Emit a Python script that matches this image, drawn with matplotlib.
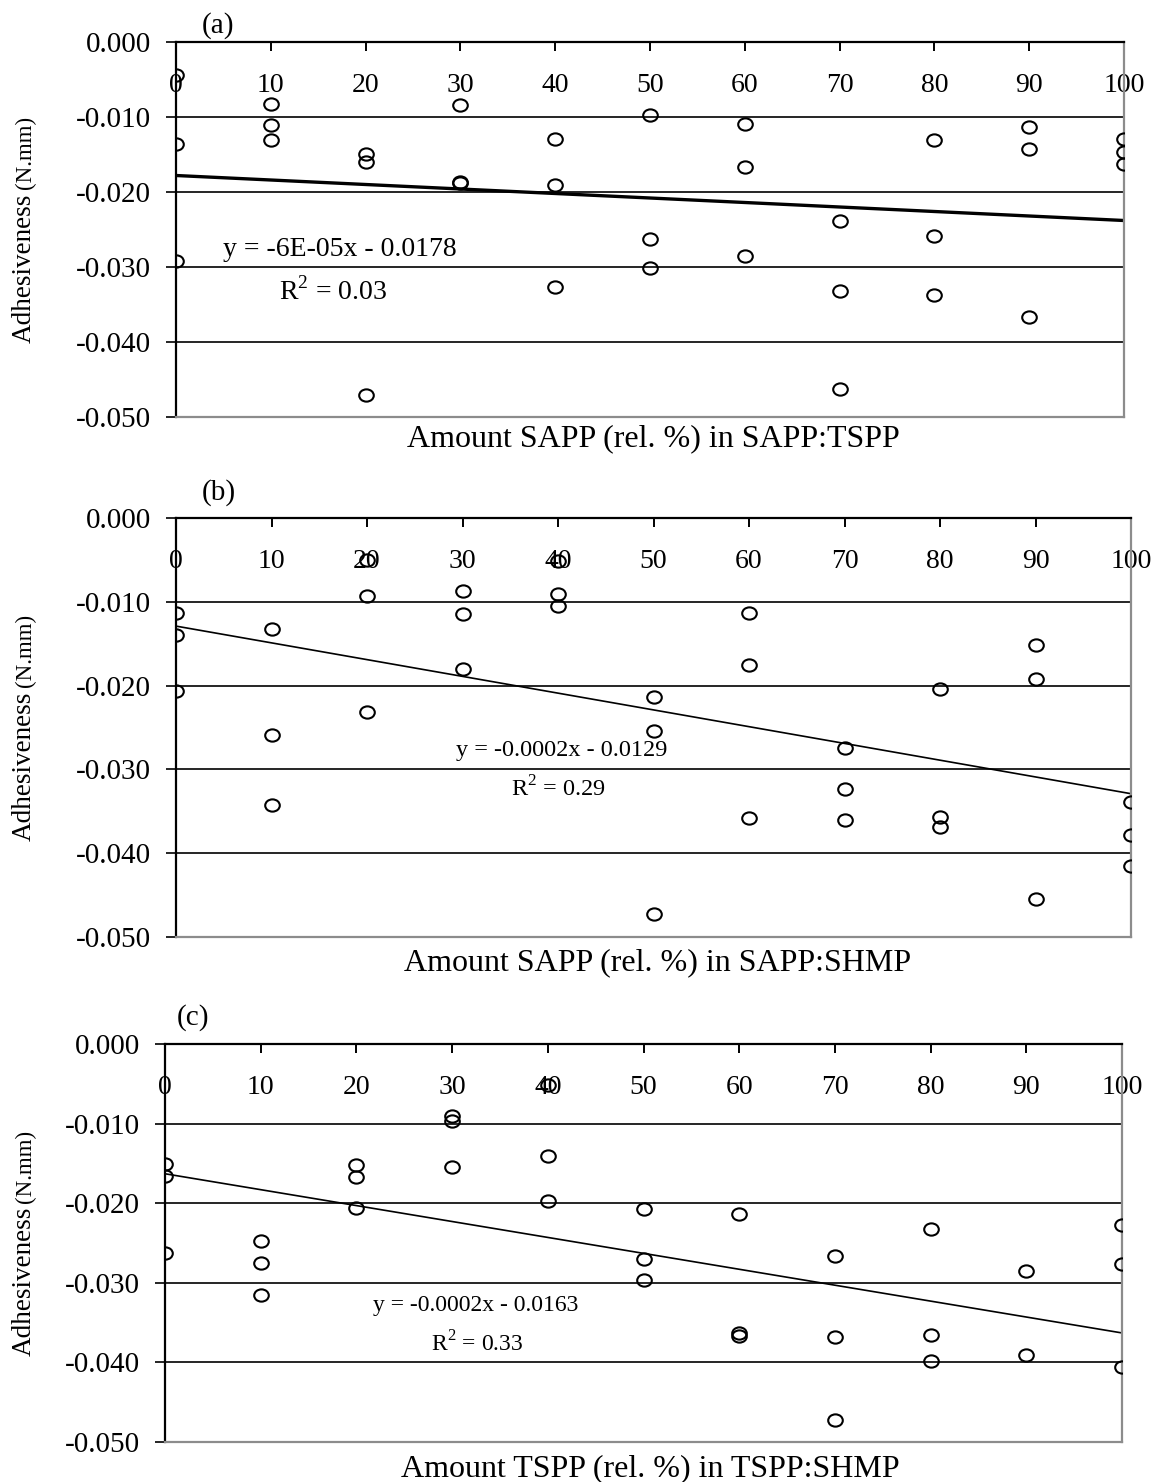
import numpy as np
import matplotlib
matplotlib.use("Agg")
import matplotlib.pyplot as plt
from matplotlib.path import Path

plt.rcParams['font.family'] = ['Liberation Serif', 'DejaVu Serif']
plt.rcParams['axes.unicode_minus'] = False
plt.rcParams['mathtext.fontset'] = 'custom'
plt.rcParams['mathtext.rm'] = 'Liberation Serif'

# ---- data -------------------------------------------------------------
x_ticks = [0, 10, 20, 30, 40, 50, 60, 70, 80, 90, 100]
y_ticks = [0.000, -0.010, -0.020, -0.030, -0.040, -0.050]

# (a) SAPP:TSPP
a_x = [0, 0, 0, 10, 10, 10, 20, 20, 20, 30, 30, 30, 40, 40, 40,
       50, 50, 50, 60, 60, 60, 70, 70, 70, 80, 80, 80, 90, 90, 90,
       100, 100, 100]
a_y = [-0.0044, -0.0136, -0.0292, -0.0082, -0.0111, -0.0130,
       -0.0149, -0.0160, -0.0471, -0.0084, -0.0186, -0.0188,
       -0.0129, -0.0191, -0.0326, -0.0097, -0.0263, -0.0301,
       -0.0109, -0.0167, -0.0285, -0.0238, -0.0332, -0.0462,
       -0.0131, -0.0259, -0.0337, -0.0113, -0.0142, -0.0366,
       -0.0129, -0.0147, -0.0163]
a_slope, a_icpt = -6e-05, -0.0178
a_r2 = "0.03"

# (b) SAPP:SHMP
b_x = [0, 0, 0, 10, 10, 10, 20, 20, 20, 30, 30, 30, 40, 40, 40,
       50, 50, 50, 60, 60, 60, 70, 70, 70, 80, 80, 80, 90, 90, 90,
       100, 100, 100]
b_y = [-0.0113, -0.0140, -0.0206, -0.0133, -0.0259, -0.0342,
       -0.0050, -0.0093, -0.0232, -0.0087, -0.0115, -0.0180,
       -0.0051, -0.0091, -0.0105, -0.0214, -0.0254, -0.0473,
       -0.0113, -0.0176, -0.0358, -0.0275, -0.0323, -0.0360,
       -0.0204, -0.0357, -0.0369, -0.0152, -0.0192, -0.0455,
       -0.0339, -0.0378, -0.0415]
b_slope, b_icpt = -0.0002, -0.0129
b_r2 = "0.29"

# (c) TSPP:SHMP
c_x = [0, 0, 0, 10, 10, 10, 20, 20, 20, 30, 30, 30, 40, 40, 40,
       50, 50, 50, 60, 60, 60, 70, 70, 70, 80, 80, 80, 90, 90,
       100, 100, 100]
c_y = [-0.0151, -0.0166, -0.0263, -0.0247, -0.0275, -0.0315,
       -0.0152, -0.0167, -0.0206, -0.0090, -0.0097, -0.0154,
       -0.0052, -0.0141, -0.0197, -0.0207, -0.0270, -0.0296,
       -0.0213, -0.0363, -0.0367, -0.0266, -0.0368, -0.0472,
       -0.0232, -0.0366, -0.0398, -0.0285, -0.0391,
       -0.0228, -0.0277, -0.0406]
c_slope, c_icpt = -0.0002, -0.0163
c_r2 = "0.33"

x_titles = ["Amount SAPP (rel. %) in SAPP:TSPP",
            "Amount SAPP (rel. %) in SAPP:SHMP",
            "Amount TSPP (rel. %) in TSPP:SHMP"]
panel_tags = ["(a)", "(b)", "(c)"]

# ---- figure -----------------------------------------------------------
W, H = 1156, 1482
fig = plt.figure(figsize=(W / 100, H / 100), dpi=100)


def axes_px(l, t, r, b):
    return fig.add_axes([l / W, 1 - b / H, (r - l) / W, (b - t) / H])


def slope_text(s):
    return f"{s:.0E}" if abs(s) < 1e-4 else f"{s:.4f}"


# slightly flattened open circle, as used for the markers
circ = Path.unit_circle()
oval = Path(circ.vertices * np.array([1.0, 0.84]), circ.codes)

panels = [
    dict(box=(176, 42, 1124, 417), x=a_x, y=a_y, fit=(a_slope, a_icpt),
         r2=a_r2, lw=2.4, eq=(17.3, -0.0277), rr=(16.6, -0.0333), eqfs=20,
         tagpos=(218, 26), xl=(0.504, -0.018)),
    dict(box=(176, 518, 1131, 937), x=b_x, y=b_y, fit=(b_slope, b_icpt),
         r2=b_r2, lw=1.2, eq=(40.4, -0.0278), rr=(40.0, -0.0323), eqfs=17.5,
         tagpos=(219, 493), xl=(0.504, -0.026)),
    dict(box=(165, 1044, 1122, 1442), x=c_x, y=c_y, fit=(c_slope, c_icpt),
         r2=c_r2, lw=1.2, eq=(32.5, -0.0328), rr=(32.6, -0.0377), eqfs=17,
         tagpos=(193, 1018), xl=(0.507, -0.031)),
]

renderer = fig.canvas.get_renderer()

for p, xt, tag in zip(panels, x_titles, panel_tags):
    ax = axes_px(*p['box'])
    ax.set_xlim(0, 100)
    ax.set_ylim(-0.050, 0.000)

    # horizontal gridlines between the frame edges
    for t in y_ticks[1:-1]:
        ax.axhline(t, color='black', lw=1.2, zorder=1)

    ax.plot(p['x'], p['y'], linestyle='none', marker=oval, markersize=10.5,
            markerfacecolor='none', markeredgecolor='black',
            markeredgewidth=1.5, zorder=3)

    slope, icpt = p['fit']
    xx = np.array([0, 100])
    ax.plot(xx, slope * xx + icpt, color='black', lw=p['lw'], zorder=2,
            solid_capstyle='butt')

    ax.text(p['eq'][0], p['eq'][1],
            f"y = {slope_text(slope)}x - {abs(icpt):.4f}",
            fontsize=p['eqfs'], ha='center', va='center')
    ax.text(p['rr'][0], p['rr'][1], r"R$^{\mathrm{2}}$ = " + p['r2'],
            fontsize=p['eqfs'], ha='center', va='center')

    # frame: value axis and category axis black, the rest grey
    for s in ['left', 'top']:
        ax.spines[s].set_color('black')
        ax.spines[s].set_linewidth(1.6)
    for s in ['right', 'bottom']:
        ax.spines[s].set_color('#8c8c8c')
        ax.spines[s].set_linewidth(1.6)

    ax.set_yticks(y_ticks)
    ax.set_yticklabels([f"{v:.3f}" if v != 0 else "0.000" for v in y_ticks])
    ax.tick_params(axis='y', direction='out', length=7, width=1.2,
                   pad=11, labelsize=21)

    ax.xaxis.tick_top()
    ax.set_xticks(x_ticks)
    ax.set_xticklabels([str(v) for v in x_ticks])
    ax.tick_params(axis='x', direction='in', length=6.5, width=1.4,
                   pad=-40.5, labelsize=20)

    ax.xaxis.set_label_position('bottom')
    ax.set_xlabel(xt, fontsize=23)
    ax.xaxis.set_label_coords(*p['xl'])

    l, t, r, b = p['box']
    fig.text(p['tagpos'][0] / W, 1 - p['tagpos'][1] / H, tag, fontsize=21,
             ha='center', va='center')

    # y title: larger word followed by a smaller unit
    yc = 1 - (t + b) / 2 / H
    t1 = fig.text(24 / W, yc, "Adhesiveness", rotation=90, fontsize=19.5,
                  ha='center', va='center')
    t2 = fig.text(25 / W, yc, "(N.mm)", rotation=90, fontsize=16.5,
                  ha='center', va='center')
    h1 = t1.get_window_extent(renderer).height
    h2 = t2.get_window_extent(renderer).height
    gap = 4
    total = h1 + gap + h2
    base = yc * H - total / 2
    t1.set_y((base + h1 / 2) / H)
    t2.set_y((base + h1 + gap + h2 / 2) / H)

fig.savefig("out.png", dpi=100)
